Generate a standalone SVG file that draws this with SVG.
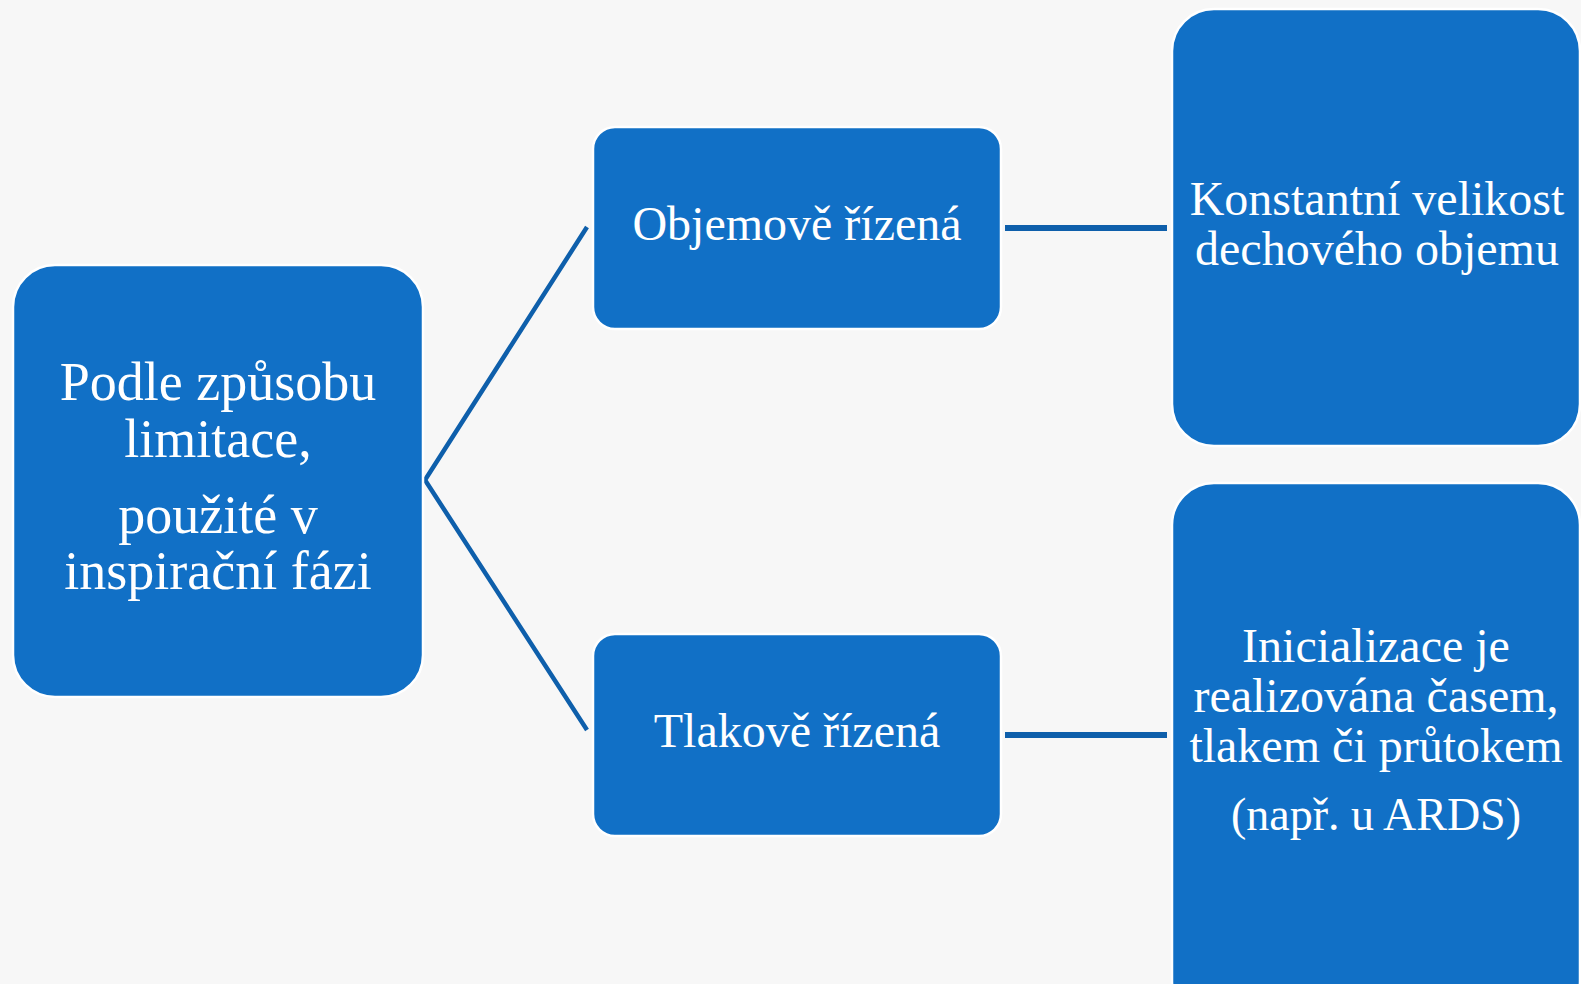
<svg xmlns="http://www.w3.org/2000/svg" width="1581" height="984" viewBox="0 0 1581 984">
<style>
.box{fill:#1170c6;stroke:#ffffff;stroke-width:2.5}
.t{fill:#ffffff;font-family:"Liberation Serif","Times New Roman",serif;text-anchor:middle}
.c{stroke:#0e5fab;fill:none;stroke-linecap:butt}
</style>
<rect x="0" y="0" width="1581" height="984" fill="#f7f7f7"/>
<g id="connectors">
<polyline class="c" stroke-width="4.5" points="587,227 425,480 587,730"/>
<line class="c" stroke-width="6" x1="1005" y1="228" x2="1167" y2="228"/>
<line class="c" stroke-width="6" x1="1005" y1="735" x2="1167" y2="735"/>
</g>
<g id="root">
<rect class="box" x="13" y="265" width="410" height="432" rx="42"/>
<text class="t" font-size="54"><tspan x="218" y="400">Podle způsobu</tspan><tspan x="218" y="457">limitace,</tspan><tspan x="218" y="533">použité v</tspan><tspan x="218" y="589">inspirační fázi</tspan></text>
</g>
<g id="volume">
<rect class="box" x="593" y="127" width="408" height="202" rx="22"/>
<text class="t" font-size="48" x="797" y="240">Objemově řízená</text>
</g>
<g id="pressure">
<rect class="box" x="593" y="634" width="408" height="202" rx="22"/>
<text class="t" font-size="48" x="797" y="747">Tlakově řízená</text>
</g>
<g id="volume-detail">
<rect class="box" x="1172" y="9" width="408" height="437" rx="42"/>
<text class="t" font-size="48"><tspan x="1377" y="215">Konstantní velikost</tspan><tspan x="1377" y="265">dechového objemu</tspan></text>
</g>
<g id="pressure-detail">
<rect class="box" x="1172" y="483" width="408" height="540" rx="42"/>
<text class="t" font-size="48"><tspan x="1376" y="662">Inicializace je</tspan><tspan x="1376" y="712">realizována časem,</tspan><tspan x="1376" y="762">tlakem či průtokem</tspan></text>
<text class="t" font-size="46" x="1376" y="830">(např. u ARDS)</text>
</g>
</svg>
